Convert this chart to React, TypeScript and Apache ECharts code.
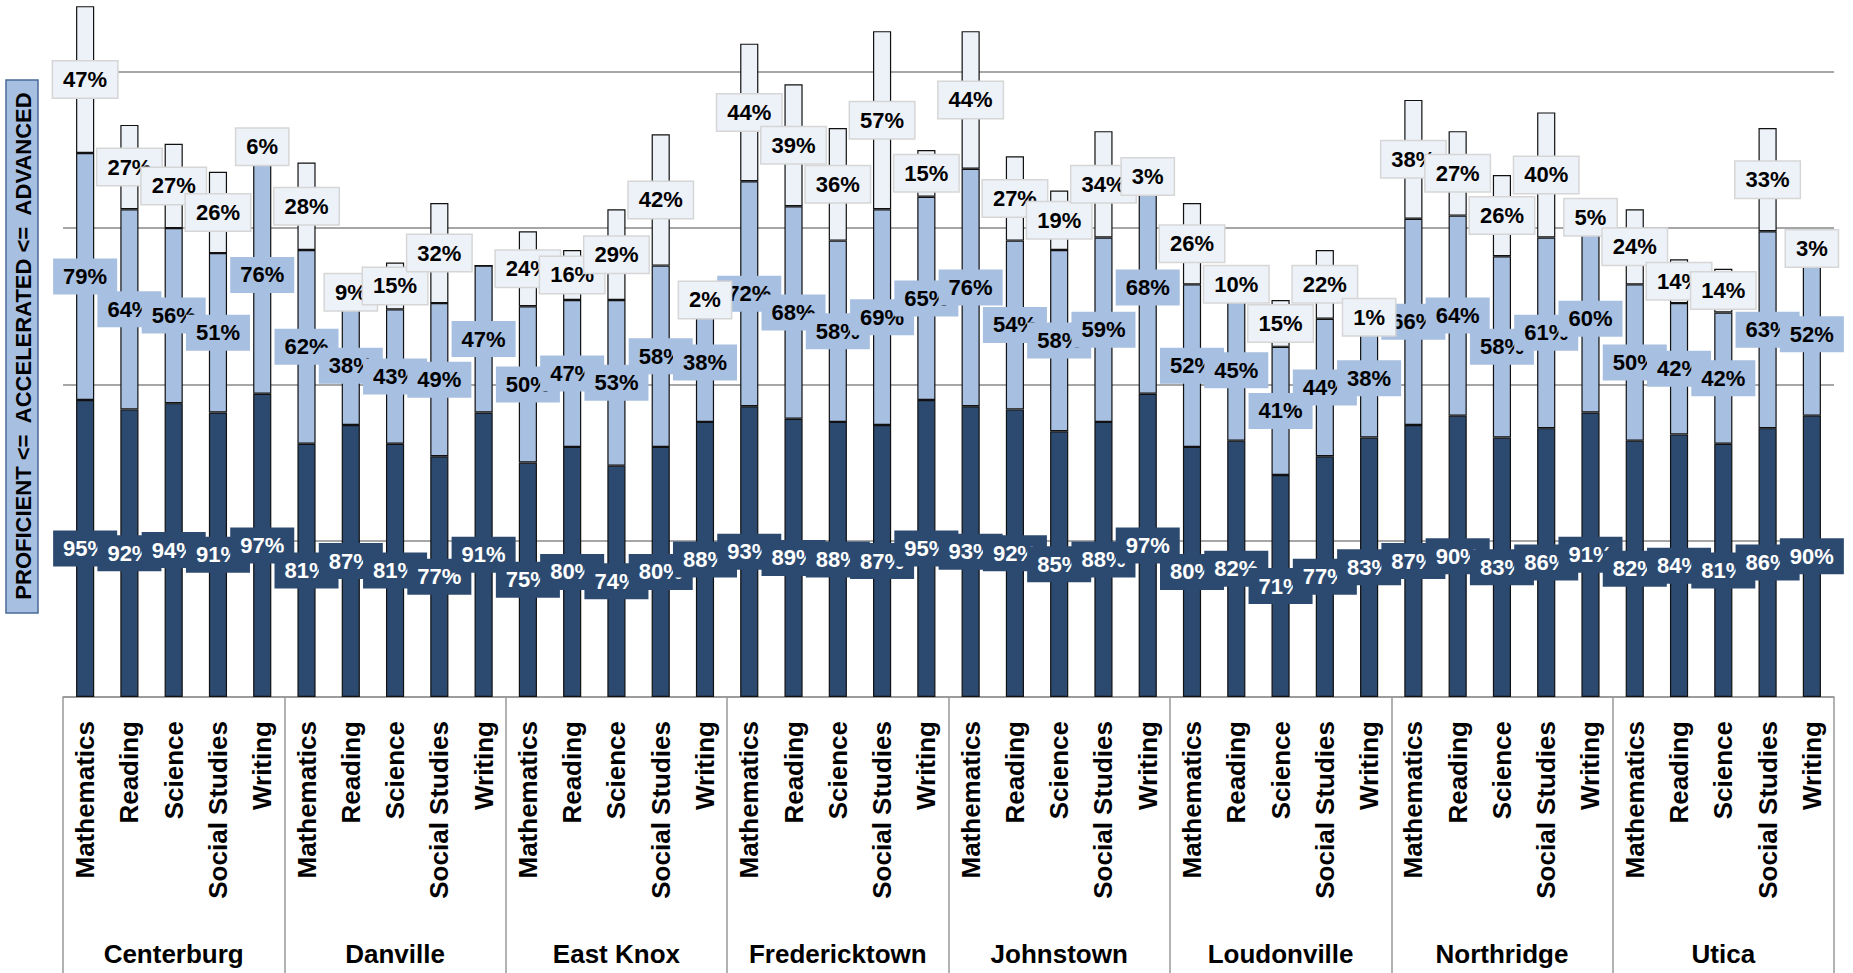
import React, { useEffect, useRef } from 'react';
import * as echarts from 'echarts';

const districts = ['Centerburg', 'Danville', 'East Knox', 'Fredericktown', 'Johnstown', 'Loudonville', 'Northridge', 'Utica'];
const subjects = ['Mathematics', 'Reading', 'Science', 'Social Studies', 'Writing'];

// per district: 5 subjects in order above
const proficient = [
  95, 92, 94, 91, 97,
  81, 87, 81, 77, 91,
  75, 80, 74, 80, 88,
  93, 89, 88, 87, 95,
  93, 92, 85, 88, 97,
  80, 82, 71, 77, 83,
  87, 90, 83, 86, 91,
  82, 84, 81, 86, 90,
];
const accelerated = [
  79, 64, 56, 51, 76,
  62, 38, 43, 49, 47,
  50, 47, 53, 58, 38,
  72, 68, 58, 69, 65,
  76, 54, 58, 59, 68,
  52, 45, 41, 44, 38,
  66, 64, 58, 61, 60,
  50, 42, 42, 63, 52,
];
const advanced = [
  47, 27, 27, 26, 6,
  28, 9, 15, 32, 0,
  24, 16, 29, 42, 2,
  44, 39, 36, 57, 15,
  44, 27, 19, 34, 3,
  26, 10, 15, 22, 1,
  38, 27, 26, 40, 5,
  24, 14, 14, 33, 3,
];

const subjectCats = districts.flatMap(() => subjects);
const font = 'Liberation Sans, Arial, sans-serif';

const App: React.FC = () => {
  const chartRef = useRef<HTMLDivElement>(null);

  useEffect(() => {
    if (!chartRef.current) return;
    const chart = echarts.init(chartRef.current, undefined, { renderer: 'svg' });

    const makeSeries = (name: string, values: number[], color: string, labelBg: string, labelColor: string, labelBorder: string) => ({
      name,
      type: 'bar',
      stack: 'total',
      barWidth: '41%',
      itemStyle: { color, borderColor: '#111', borderWidth: 1.2 },
      data: values.map(v => ({
        value: v,
        label: { show: v > 0 },
      })),
      label: {
        position: 'inside',
        formatter: '{c}%',
        fontFamily: font,
        fontWeight: 'bold',
        fontSize: 22,
        color: labelColor,
        backgroundColor: labelBg,
        borderColor: labelBorder,
        borderWidth: labelBorder === 'none' ? 0 : 1.5,
        padding: [8, 10, 6, 10],
      },
    });

    chart.setOption({
      animation: false,
      grid: { left: 63, right: 19, top: 3, bottom: 276 },
      xAxis: [
        {
          type: 'category',
          data: subjectCats,
          axisLine: { lineStyle: { color: '#999', width: 1.5 } },
          axisTick: { show: false },
          axisLabel: {
            interval: 0,
            rotate: 90,
            margin: 24,
            fontFamily: font,
            fontWeight: 'bold',
            fontSize: 26,
            color: '#000',
          },
        },
        {
          type: 'category',
          position: 'bottom',
          data: districts,
          axisLine: { show: false },
          axisTick: { show: true, length: 280, lineStyle: { color: '#999', width: 1.5 } },
          axisLabel: {
            interval: 0,
            margin: 244,
            fontFamily: font,
            fontWeight: 'bold',
            fontSize: 26,
            color: '#000',
          },
        },
      ],
      yAxis: {
        type: 'value',
        min: 0,
        max: 222,
        interval: 50,
        axisLabel: { show: false },
        axisLine: { show: false },
        axisTick: { show: false },
        splitLine: { showMaxLine: false, lineStyle: { color: '#888', width: 1.5 } },
      },
      series: [
        makeSeries('Proficient', proficient, '#2c4a70', '#2c4a70', '#fff', 'none'),
        makeSeries('Accelerated', accelerated, '#a7bfe0', '#a7bfe0', '#000', 'none'),
        makeSeries('Advanced', advanced, '#edf2f9', '#edf2f9', '#000', '#d6d6d6'),
      ],
      graphic: [
        {
          type: 'rect',
          shape: { x: 6, y: 80, width: 32, height: 533 },
          style: { fill: '#a7bfe0', stroke: '#4a6a98', lineWidth: 1.5 },
        },
        {
          type: 'text',
          x: 23,
          y: 346,
          rotation: Math.PI / 2,
          style: {
            text: 'PROFICIENT <=  ACCELERATED <=  ADVANCED',
            fontFamily: font,
            fontWeight: 'bold',
            fontSize: 22,
            fill: '#000',
            align: 'center',
            verticalAlign: 'middle',
          },
        },
      ],
    });

    return () => chart.dispose();
  }, []);

  return <div ref={chartRef} style={{ position: 'absolute', left: 0, top: 0, width: 1853, height: 973 }} />;
};

export default App;
